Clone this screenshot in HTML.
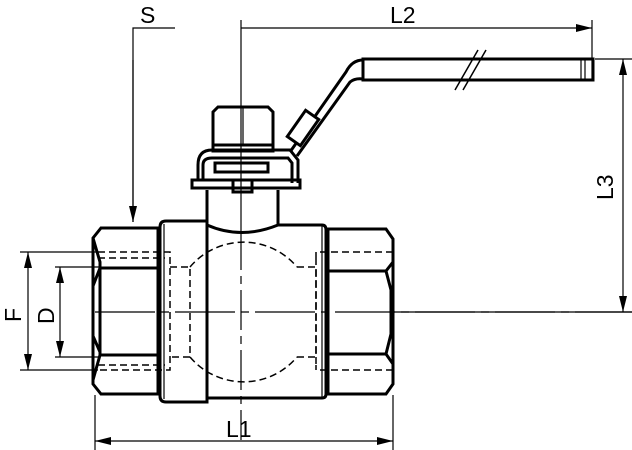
<!DOCTYPE html>
<html><head><style>body{margin:0;background:#fff}svg{display:block}</style></head><body>
<svg width="632" height="450" viewBox="0 0 632 450" xmlns="http://www.w3.org/2000/svg" font-family="Liberation Sans, sans-serif">
<defs>
<marker id="a" markerWidth="16" markerHeight="8" refX="16" refY="4" orient="auto" markerUnits="userSpaceOnUse"><path d="M0,0 L16,4 L0,8z" fill="#000"/></marker>
<marker id="b" markerWidth="16" markerHeight="8" refX="0" refY="4" orient="auto" markerUnits="userSpaceOnUse"><path d="M16,0 L0,4 L16,8z" fill="#000"/></marker>
</defs>
<g fill="none" stroke="#000">
<!-- center lines -->
<line x1="241" y1="20" x2="241" y2="230" stroke-width="1.2"/>
<line x1="241" y1="230" x2="241" y2="440" stroke-width="1.2" stroke-dasharray="40,6,8,6"/>
<line x1="95" y1="312" x2="632" y2="312" stroke-width="1.2" stroke-dasharray="60,6,8,6"/>
<g stroke-width="3">
<!-- left nut -->
<path d="M101,228 H158 V394 H101 L93,384 V238 Z"/>
<path d="M93,238 L100,262 V268 H158 M100,268 L93,286 V336 L100,352 V355 H158 M100,355 L93,380"/>
<path d="M100,262 V355"/>
<!-- left flange -->
<path d="M166,221 H207 V402 H166 Q160,402 160,396 V227 Q160,221 166,221Z"/>
<!-- body -->
<path d="M207,225 Q241,240 278,225 H322 Q326,225 326,230 V394 Q326,398 322,398 H207"/>
<!-- right nut -->
<path d="M328,229 H386 L393,239 V384 L386,394 H328 Z"/>
<path d="M328,271 H386 L393,262 M386,271 L391,290 V334 L386,354 H328 M386,354 L393,364"/>
<!-- stem -->
<path d="M207,225 V190 M278,225 V190"/>
<rect x="233" y="180" width="19" height="12"/>
<rect x="215" y="163" width="53" height="9"/>
<path d="M192,188 V180 H300 V188 Z"/>
<path d="M198,180 V165 Q198,150 212,150 H290 L298,160 V183"/>
<path d="M203,180 V165 Q203,158 212,158 H288 L292,163 V183"/>
<rect x="213" y="145" width="60" height="6"/>
<path d="M218,107 H268 L273,112 V145 H213 V112 Z"/>
<!-- handle -->
<path d="M290,152 L346,72 Q352,60 363,60 M297,156 L350,82 Q355,78 363,79"/>
<rect x="-16" y="-8" width="32" height="16" transform="translate(303,128) rotate(-55)" fill="#fff"/>
<rect x="363" y="59" width="230" height="21"/>
</g>
<line x1="164" y1="224" x2="164" y2="399" stroke-width="1.2"/>
<line x1="322" y1="226" x2="322" y2="397" stroke-width="1.2"/>
<line x1="243" y1="108" x2="243" y2="144" stroke-width="1.2"/>
<line x1="581" y1="60" x2="581" y2="79" stroke-width="1.2"/>
<line x1="585" y1="60" x2="585" y2="79" stroke-width="1.2"/>
<line x1="455" y1="90" x2="478" y2="50" stroke-width="1.5"/>
<line x1="463" y1="90" x2="486" y2="50" stroke-width="1.5"/>
<!-- hidden lines -->
<g stroke-width="1.5" stroke-dasharray="7,4">
<path d="M98,252 H170 V370 H98"/>
<path d="M98,258 H165 M98,365 H165"/>
<path d="M170,267 H190 V357 H170"/>
<path d="M190,267 A70,70 0 0 1 297,267 M190,357 A70,70 0 0 0 297,357"/>
<path d="M297,267 H316 V357 H297"/>
<path d="M320,252 H392 M320,370 H392 M316,258 V365 M316,252 V258 M316,365 V370"/>
</g>
<!-- dimension lines -->
<g stroke-width="1.2">
<path d="M20,252 H98 M20,370 H98 M55,267 H100 M55,357 H100"/>
<line x1="28" y1="252" x2="28" y2="370" marker-start="url(#b)" marker-end="url(#a)"/>
<line x1="60" y1="267" x2="60" y2="357" marker-start="url(#b)" marker-end="url(#a)"/>
<path d="M175,28 H133 V222" />
<line x1="133" y1="60" x2="133" y2="222" marker-end="url(#a)"/>
<line x1="241" y1="28" x2="592" y2="28" marker-end="url(#a)"/>
<line x1="592" y1="20" x2="592" y2="80"/>
<line x1="595" y1="59" x2="632" y2="59"/>
<line x1="393" y1="312" x2="632" y2="312"/>
<line x1="623" y1="59" x2="623" y2="312" marker-start="url(#b)" marker-end="url(#a)"/>
<line x1="95" y1="395" x2="95" y2="450"/>
<line x1="393" y1="395" x2="393" y2="450"/>
<line x1="95" y1="441" x2="393" y2="441" marker-start="url(#b)" marker-end="url(#a)"/>
</g>
</g>
<g font-size="23" fill="#000">
<text x="140" y="23">S</text>
<text x="390" y="23">L2</text>
<text x="226" y="437">L1</text>
<text transform="translate(613,200) rotate(-90)">L3</text>
<text transform="translate(21,322) rotate(-90)">F</text>
<text transform="translate(54,324) rotate(-90)">D</text>
</g>
</svg>
</body></html>
